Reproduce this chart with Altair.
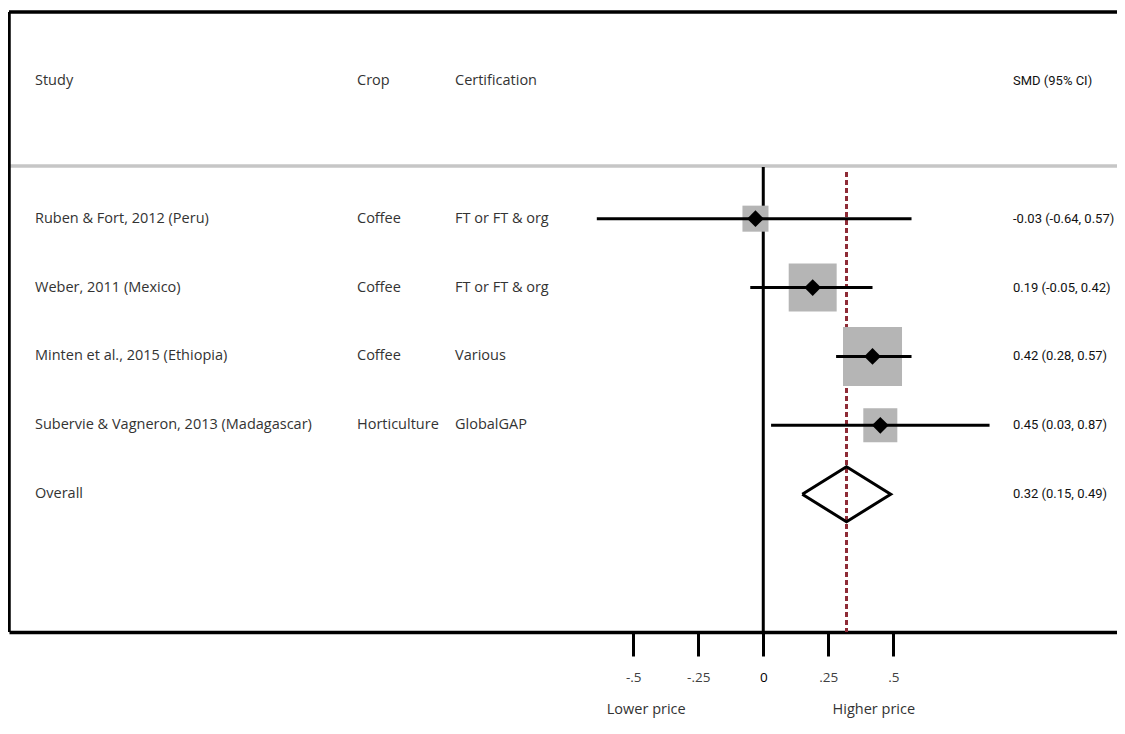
import altair as alt
import pandas as pd

# ---- data ----
studies = ["Ruben & Fort, 2012 (Peru)", "Weber, 2011 (Mexico)",
           "Minten et al., 2015 (Ethiopia)", "Subervie & Vagneron, 2013 (Madagascar)"]
crops = ["Coffee", "Coffee", "Coffee", "Horticulture"]
certs = ["FT or FT & org", "FT or FT & org", "Various", "GlobalGAP"]
smd = [-0.03, 0.19, 0.42, 0.45]
lower = [-0.64, -0.05, 0.28, 0.03]
upper = [0.57, 0.42, 0.57, 0.87]
weights = [8.9, 30.2, 45.7, 15.2]
overall_label = "Overall"
overall = [0.32]
overall_lower = [0.15]
overall_upper = [0.49]
headers = ["Study", "Crop", "Certification", "SMD (95% CI)"]
tick_values = [-0.5, -0.25, 0, 0.25, 0.5]
tick_labels = ["-.5", "-.25", "0", ".25", ".5"]
direction_labels = ["Lower price", "Higher price"]
direction_x = [-0.45, 0.425]

# ---- layout / style ----
W, H = 1108, 620
LEFT_FONT = "Open Sans"
RIGHT_FONT = "Roboto"
LFS = 14.5
RFS = 13
RX = 1004
TXT = "#333333"
rows = list(range(1, len(studies) + 1))
overall_row = len(studies) + 1
header_row = -1
HALF = 0.4  # half-height of the overall diamond in row units

studies_df = pd.DataFrame({
    "row": rows, "study": studies, "crop": crops, "cert": certs,
    "smd": smd, "lower": lower, "upper": upper, "weight": weights,
    "ci": [f"{s:.2f} ({l:.2f}, {u:.2f})" for s, l, u in zip(smd, lower, upper)],
})
overall_df = pd.DataFrame({
    "row": [overall_row], "study": [overall_label],
    "ci": [f"{overall[0]:.2f} ({overall_lower[0]:.2f}, {overall_upper[0]:.2f})"],
})
diamond_df = pd.DataFrame({
    "x": [overall_lower[0], overall[0], overall_upper[0], overall[0], overall_lower[0]],
    "y": [overall_row, overall_row - HALF, overall_row, overall_row + HALF, overall_row],
    "o": [0, 1, 2, 3, 4],
})
header_df = pd.DataFrame({"row": [header_row] * 4, "text": headers,
                          "px": [26, 348, 446, RX]})
ref_df = pd.DataFrame({"x": [0]})
ovl_df = pd.DataFrame({"x": overall})
dir_df = pd.DataFrame({"x": direction_x, "text": direction_labels})

label_expr = " : ".join(
    f"datum.value == {v} ? '{l}'" for v, l in zip(tick_values, tick_labels)
) + " : ''"

xscale = alt.Scale(domain=[-2.9, 1.36], nice=False, zero=False)
yscale = alt.Scale(domain=[-2, 7], reverse=True, nice=False, zero=False)

X = alt.X("x:Q", scale=xscale, axis=alt.Axis(
    values=tick_values, labelExpr=label_expr, title=None, grid=False,
    domain=True, domainColor="black", domainWidth=3.5,
    ticks=True, tickColor="black", tickWidth=3, tickSize=24,
    labelPadding=14, labelFontSize=13.5, labelFont=LEFT_FONT,
    labelColor={"condition": {"test": "datum.value == 0", "value": "#000000"},
                "value": "#404040"}))

base_frame = alt.Chart(ref_df)
frame_left = base_frame.mark_rule(color="black", strokeWidth=3.5).encode(
    x=alt.value(0), y=alt.value(0), y2=alt.value(H))
frame_top = base_frame.mark_rule(color="black", strokeWidth=3.5).encode(
    x=alt.value(0), x2=alt.value(W), y=alt.value(0))
gray_line = base_frame.mark_rule(color="#c6c6c6", strokeWidth=3.3).encode(
    x=alt.value(0), x2=alt.value(W), y=alt.value(154))

zero_line = alt.Chart(ref_df).mark_rule(color="black", strokeWidth=3).encode(
    x=X, y=alt.value(155), y2=alt.value(H))
ovl_line = alt.Chart(ovl_df).mark_rule(color="#8e2b36", strokeWidth=3,
                                       strokeDash=[5, 3]).encode(
    x=alt.X("x:Q", scale=xscale), y=alt.value(160), y2=alt.value(H))

boxes = alt.Chart(studies_df).mark_square(color="#b5b5b5", opacity=1).encode(
    x=alt.X("smd:Q", scale=xscale),
    y=alt.Y("row:Q", scale=yscale, axis=None),
    size=alt.Size("weight:Q", scale=alt.Scale(type="linear", domain=[0, 100],
                                              range=[0, 7617]), legend=None))
ci_lines = alt.Chart(studies_df).mark_rule(color="black", strokeWidth=3).encode(
    x=alt.X("lower:Q", scale=xscale), x2="upper:Q",
    y=alt.Y("row:Q", scale=yscale, axis=None))
points = alt.Chart(studies_df).mark_point(shape="diamond", filled=True,
                                          color="black", opacity=1, size=280).encode(
    x=alt.X("smd:Q", scale=xscale), y=alt.Y("row:Q", scale=yscale, axis=None))
diamond = alt.Chart(diamond_df).mark_line(color="black", strokeWidth=3,
                                          strokeJoin="miter").encode(
    x=alt.X("x:Q", scale=xscale), y=alt.Y("y:Q", scale=yscale, axis=None),
    order="o:Q")

def text_col(df, field, px, font, size, color):
    return alt.Chart(df).mark_text(align="left", baseline="middle", font=font,
                                   fontSize=size, color=color).encode(
        x=alt.value(px), y=alt.Y("row:Q", scale=yscale, axis=None), text=f"{field}:N")

t_study = text_col(studies_df, "study", 26, LEFT_FONT, LFS, TXT)
t_crop = text_col(studies_df, "crop", 348, LEFT_FONT, LFS, TXT)
t_cert = text_col(studies_df, "cert", 446, LEFT_FONT, LFS, TXT)
t_ci = text_col(studies_df, "ci", RX, RIGHT_FONT, RFS, "#111111")
t_ov = text_col(overall_df, "study", 26, LEFT_FONT, LFS, TXT)
t_ovci = text_col(overall_df, "ci", RX, RIGHT_FONT, RFS, "#111111")

hdr_left = alt.Chart(header_df.iloc[:3]).mark_text(
    align="left", baseline="middle", font=LEFT_FONT, fontSize=LFS, color=TXT).encode(
    x=alt.X("px:Q", scale=None), y=alt.Y("row:Q", scale=yscale, axis=None), text="text:N")
hdr_right = alt.Chart(header_df.iloc[3:]).mark_text(
    align="left", baseline="middle", font=RIGHT_FONT, fontSize=RFS, color="#111111").encode(
    x=alt.X("px:Q", scale=None), y=alt.Y("row:Q", scale=yscale, axis=None), text="text:N")

dir_text = alt.Chart(dir_df).mark_text(align="center", baseline="middle",
                                       font=LEFT_FONT, fontSize=LFS, color=TXT).encode(
    x=alt.X("x:Q", scale=xscale), y=alt.value(698), text="text:N")

chart = alt.layer(
    gray_line, frame_left, frame_top, zero_line, ovl_line, boxes, ci_lines,
    points, diamond, t_study, t_crop, t_cert, t_ci, t_ov, t_ovci,
    hdr_left, hdr_right, dir_text,
    data=ref_df,
).encode(x=X).properties(
    width=W, height=H,
    padding={"left": 1, "top": 4, "right": 0, "bottom": 88},
    autosize=alt.AutoSizeParams(type="none"),
).configure_view(stroke=None).configure(background="white")

chart.save("out.html", embed_options={"renderer": "svg", "actions": False})
